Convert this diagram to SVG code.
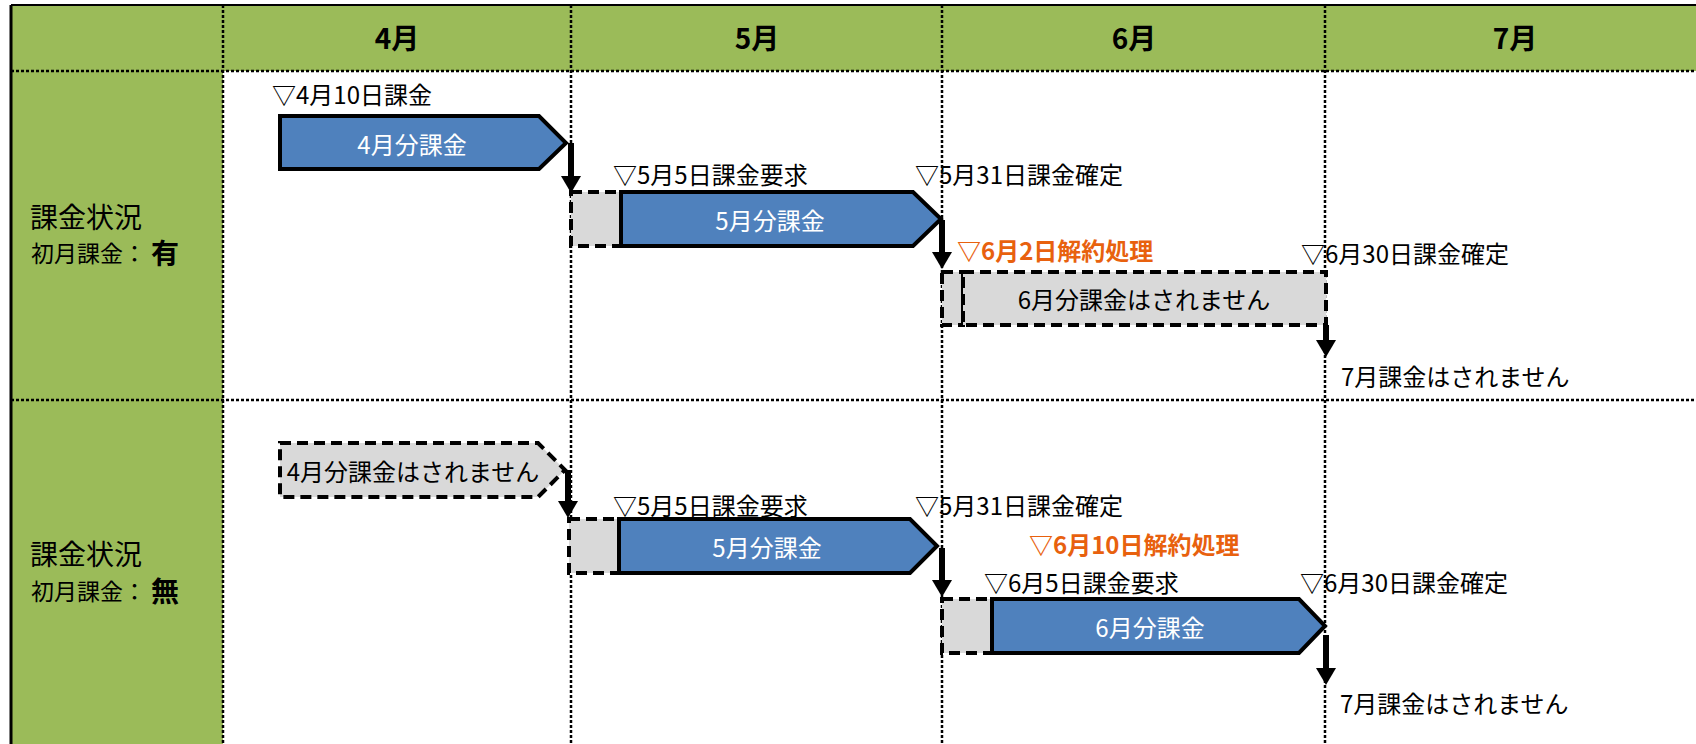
<svg xmlns="http://www.w3.org/2000/svg" width="1696" height="744" viewBox="0 0 1696 744">
<style>
text{font-family:"Noto Sans CJK JP","Noto Sans",sans-serif;dominant-baseline:central;fill:#000}
.hd{font-size:28px;font-weight:bold;text-anchor:middle}
.lb{font-size:24px}
.sm{font-size:23px}
.big{font-size:28px}
.bold{font-weight:bold}
.or{fill:#E8610E;font-weight:bold;font-size:24px}
.bt{font-size:24px;text-anchor:middle}
.wt{fill:#fff}
.dot{stroke:#000;stroke-width:2.5;stroke-dasharray:3 2;fill:none}
.blue{fill:#4F81BD;stroke:#000;stroke-width:4;stroke-linejoin:miter}
.gray{fill:#D9D9D9;stroke:#000;stroke-width:4;stroke-dasharray:11 6}
.conn{stroke:#000;stroke-width:6;fill:none}
</style>
<defs>
<marker id="ah" markerUnits="userSpaceOnUse" markerWidth="17" markerHeight="20" viewBox="0 0 17 20" refX="2" refY="10" orient="auto">
<path d="M0,0 L17,10 L0,20 z" fill="#000"/>
</marker>
</defs>
<rect x="0" y="0" width="1696" height="744" fill="#fff"/>
<g id="grid">
<rect x="11" y="5" width="1685" height="66" fill="#9BBB59"/>
<rect x="11" y="71" width="212" height="673" fill="#9BBB59"/>
<line x1="11" y1="5" x2="1696" y2="5" stroke="#000" stroke-width="2"/>
<line x1="11" y1="5" x2="11" y2="744" stroke="#000" stroke-width="3"/>
<line class="dot" x1="11" y1="71" x2="1696" y2="71"/>
<line class="dot" x1="11" y1="400" x2="1696" y2="400"/>
<line class="dot" x1="223" y1="5" x2="223" y2="744"/>
<line class="dot" x1="571" y1="5" x2="571" y2="744"/>
<line class="dot" x1="942" y1="5" x2="942" y2="744"/>
<line class="dot" x1="1325" y1="5" x2="1325" y2="744"/>
<text class="hd" x="397" y="37">4月</text>
<text class="hd" x="757" y="37">5月</text>
<text class="hd" x="1134" y="37">6月</text>
<text class="hd" x="1515" y="37">7月</text>
</g>
<g id="label-row1">
<text class="big" x="30" y="216">課金状況</text>
<text class="sm" x="31" y="252">初月課金：<tspan class="big bold" x="151">有</tspan></text>
</g>
<g id="label-row2">
<text class="big" x="30" y="553">課金状況</text>
<text class="sm" x="31" y="590">初月課金：<tspan class="big bold" x="151">無</tspan></text>
</g>
<g id="r1-apr">
<path class="blue" d="M280,116 L539,116 L566,143 L539,169 L280,169 Z"/>
<text class="bt wt" x="412" y="143">4月分課金</text>
<text class="lb" x="272" y="93">▽4月10日課金</text>
</g>
<g id="r1-may">
<rect class="gray" x="571" y="192" width="50" height="54"/>
<path class="blue" d="M621,192 L913,192 L941,219 L913,246 L621,246 Z"/>
<text class="bt wt" x="770" y="219">5月分課金</text>
<text class="lb" x="613" y="173">▽5月5日課金要求</text>
<text class="lb" x="915" y="173">▽5月31日課金確定</text>
</g>
<g id="r1-jun">
<rect class="gray" x="942" y="272" width="21" height="53"/>
<rect class="gray" x="963" y="272" width="363" height="53"/>
<text class="bt" x="1144" y="298">6月分課金はされません</text>
<text class="or" x="957" y="249">▽6月2日解約処理</text>
<text class="lb" x="1301" y="252">▽6月30日課金確定</text>
</g>
<g id="r1-jul">
<text class="lb" x="1341" y="375">7月課金はされません</text>
</g>
<g id="r2-apr">
<path class="gray" d="M280,443 L538,443 L565,470 L538,497 L280,497 Z"/>
<text class="bt" x="413" y="470">4月分課金はされません</text>
</g>
<g id="r2-may">
<rect class="gray" x="569" y="519" width="50" height="54"/>
<path class="blue" d="M619,519 L910,519 L937,546 L910,573 L619,573 Z"/>
<text class="bt wt" x="767" y="546">5月分課金</text>
<text class="lb" x="613" y="504">▽5月5日課金要求</text>
<text class="lb" x="915" y="504">▽5月31日課金確定</text>
</g>
<g id="r2-jun">
<rect class="gray" x="942" y="599" width="50" height="54"/>
<path class="blue" d="M992,599 L1299,599 L1325,626 L1299,653 L992,653 Z"/>
<text class="bt wt" x="1150" y="626">6月分課金</text>
<text class="or" x="1029" y="543">▽6月10日解約処理</text>
<text class="lb" x="984" y="581">▽6月5日課金要求</text>
<text class="lb" x="1300" y="581">▽6月30日課金確定</text>
</g>
<g id="r2-jul">
<text class="lb" x="1340" y="702">7月課金はされません</text>
</g>
<g id="connectors">
<line class="conn" x1="571" y1="143" x2="571" y2="178" marker-end="url(#ah)"/>
<line class="conn" x1="942" y1="220" x2="942" y2="254" marker-end="url(#ah)"/>
<line class="conn" x1="1326" y1="325" x2="1326" y2="342" marker-end="url(#ah)"/>
<line class="conn" x1="568" y1="470" x2="568" y2="503" marker-end="url(#ah)"/>
<line class="conn" x1="942" y1="548" x2="942" y2="582" marker-end="url(#ah)"/>
<line class="conn" x1="1326" y1="635" x2="1326" y2="670" marker-end="url(#ah)"/>
</g>
</svg>
